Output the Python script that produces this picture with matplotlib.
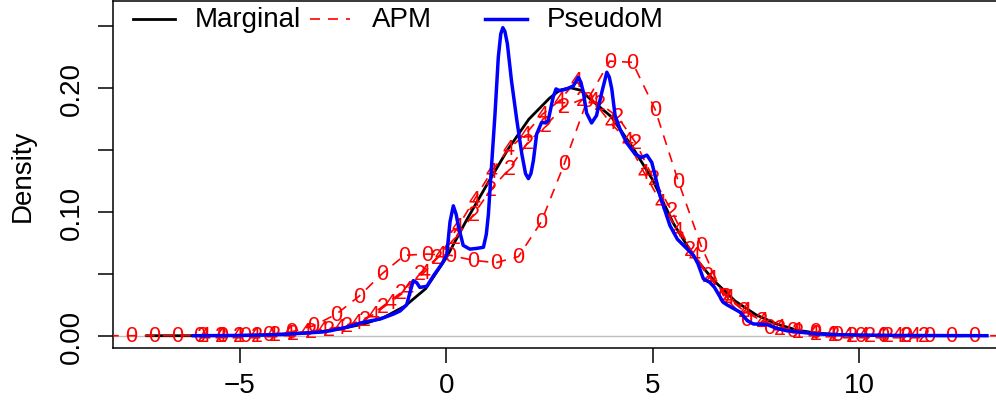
import matplotlib
matplotlib.use("Agg")
import matplotlib.pyplot as plt

plt.rcParams['font.family'] = ['Liberation Sans', 'DejaVu Sans']

# Marginal density (black)
marg_x = [-7.26, -6.5, -6.0, -5.5, -5.0, -4.5, -4.0, -3.5, -3.0, -2.5, -2.0, -1.5,
          -1.0, -0.5, 0.0, 0.5, 1.0, 1.5, 2.0, 2.5, 2.75, 3.0, 3.25, 3.5, 4.0, 4.5,
          5.0, 5.5, 6.0, 6.5, 7.0, 7.5, 8.0, 8.5, 9.0, 9.5, 10.0, 11.0, 12.0, 12.5]
marg_y = [0.0, 0.0, 0.0, 0.0001, 0.0003, 0.0006, 0.0012, 0.002, 0.0035, 0.006, 0.0095, 0.015,
          0.024, 0.038, 0.063, 0.094, 0.123, 0.151, 0.175, 0.192, 0.1985, 0.2005, 0.1985, 0.191, 0.177, 0.153,
          0.126, 0.091, 0.064, 0.044, 0.028, 0.017, 0.0095, 0.0045, 0.002, 0.001, 0.0004, 0.0001, 0.0, 0.0]

# PseudoM density (blue)
pseudo_x = [-6.13, -5.5, -5.0, -4.5, -4.0, -3.5, -3.0, -2.81, -2.4, -2.0, -1.6, -1.28,
            -1.12, -0.96, -0.88, -0.80, -0.72, -0.64, -0.47, -0.31, -0.11, 0.01, 0.09, 0.17,
            0.24, 0.29, 0.41, 0.57, 0.74, 0.90, 0.97, 1.02, 1.10, 1.18, 1.26, 1.32,
            1.37, 1.42, 1.48, 1.58, 1.71, 1.83, 1.92, 1.99, 2.05, 2.11, 2.19, 2.31,
            2.40, 2.47, 2.59, 2.66, 2.75, 2.92, 3.08, 3.20, 3.26, 3.32, 3.40, 3.52,
            3.64, 3.77, 3.89, 3.95, 4.01, 4.09, 4.21, 4.37, 4.57, 4.73, 4.86, 4.98,
            5.10, 5.18, 5.26, 5.42, 5.60, 5.75, 5.99, 6.10, 6.23, 6.39, 6.50, 6.71,
            6.80, 7.12, 7.30, 7.44, 7.77, 8.00, 8.25, 8.98, 9.5, 10.0, 11.0, 12.0, 13.1]
pseudo_y = [0.0, 0.0001, 0.0002, 0.0005, 0.001, 0.002, 0.003, 0.004, 0.007, 0.011, 0.0135, 0.0175,
            0.020, 0.025, 0.035, 0.0445, 0.043, 0.039, 0.040, 0.0485, 0.058, 0.065, 0.092, 0.105,
            0.098, 0.089, 0.073, 0.070, 0.0706, 0.0715, 0.082, 0.098, 0.139, 0.179, 0.225, 0.244,
            0.249, 0.246, 0.236, 0.206, 0.174, 0.147, 0.131, 0.127, 0.131, 0.1415, 0.163, 0.1725,
            0.172, 0.174, 0.193, 0.1995, 0.198, 0.1995, 0.202, 0.209, 0.205, 0.197, 0.180, 0.172,
            0.178, 0.197, 0.213, 0.209, 0.1995, 0.178, 0.167, 0.156, 0.147, 0.144, 0.146, 0.140,
            0.124, 0.113, 0.105, 0.089, 0.078, 0.073, 0.065, 0.058, 0.046, 0.043, 0.039, 0.027,
            0.025, 0.019, 0.012, 0.0095, 0.009, 0.006, 0.004, 0.0014, 0.0008, 0.0005, 0.0002, 0.0001, 0.0]

# APM densities (red dashed), one per label
apm0_x = [-8.18, -7.63, -7.08, -6.53, -5.98, -5.42, -4.87, -4.32, -3.77, -3.22, -2.66, -2.11,
          -1.56, -1.01, -0.46, 0.10, 0.65, 1.20, 1.75, 2.30, 2.86, 3.41, 3.96, 4.51,
          5.06, 5.62, 6.17, 6.72, 7.27, 7.82, 8.38, 8.93, 9.48, 10.03, 10.58, 11.14,
          11.69, 12.24, 12.79, 13.36]
apm0_y = [0.0, 0.0, 0.0, 0.0, 0.0, 0.0, 0.0005, 0.001, 0.003, 0.008, 0.0175, 0.032,
          0.050, 0.065, 0.066, 0.065, 0.061, 0.059, 0.064, 0.092, 0.139, 0.190, 0.222, 0.221,
          0.183, 0.125, 0.073, 0.032, 0.013, 0.007, 0.004, 0.003, 0.001, 0.0005, 0.0, 0.0,
          0.0, 0.0, 0.0, 0.0]

apm2_x = [-5.90, -5.46, -5.02, -4.59, -4.15, -3.71, -3.28, -2.84, -2.40, -1.97, -1.53, -1.09,
          -0.65, -0.22, 0.22, 0.66, 1.09, 1.53, 1.97, 2.41, 2.84, 3.28, 3.71, 4.15,
          4.59, 5.02, 5.46, 5.90, 6.34, 6.77, 7.21, 7.65, 8.08, 8.52, 8.96, 9.40,
          9.83, 10.27, 10.71, 11.14, 11.58]
apm2_y = [0.0, 0.0, 0.0003, 0.0005, 0.001, 0.002, 0.003, 0.005, 0.008, 0.013, 0.024, 0.035,
          0.050, 0.063, 0.0795, 0.098, 0.1186, 0.135, 0.156, 0.170, 0.185, 0.191, 0.188, 0.177,
          0.156, 0.127, 0.101, 0.070, 0.0485, 0.032, 0.020, 0.012, 0.006, 0.0035, 0.002, 0.001,
          0.0005, 0.0003, 0.0, 0.0, 0.0]

apm4_x = [-5.87, -5.46, -5.05, -4.64, -4.23, -3.82, -3.41, -3.00, -2.59, -2.18, -1.77, -1.36,
          -0.95, -0.54, -0.13, 0.28, 0.69, 1.10, 1.51, 1.92, 2.33, 2.74, 3.15, 3.56,
          3.97, 4.38, 4.79, 5.20, 5.61, 6.02, 6.43, 6.84, 7.25, 7.66, 8.07, 8.48,
          8.89, 9.30, 9.71, 10.12, 10.53, 10.94, 11.35]
apm4_y = [0.0, 0.0, 0.0003, 0.0005, 0.001, 0.002, 0.003, 0.005, 0.007, 0.011, 0.017, 0.027,
          0.037, 0.051, 0.066, 0.088, 0.1105, 0.133, 0.151, 0.163, 0.179, 0.190, 0.206, 0.190,
          0.1725, 0.158, 0.132, 0.108, 0.085, 0.065, 0.046, 0.031, 0.020, 0.012, 0.007, 0.004,
          0.002, 0.001, 0.0005, 0.0003, 0.0, 0.0, 0.0]

apm_curves = [("0", apm0_x, apm0_y), ("2", apm2_x, apm2_y), ("4", apm4_x, apm4_y)]

x_ticks = [-5, 0, 5, 10]
x_tick_labels = ["\u22125", "0", "5", "10"]
y_ticks = [0.0, 0.05, 0.10, 0.15, 0.20, 0.25]
y_tick_labels = ["0.00", "", "0.10", "", "0.20", ""]

XLIM = (-8.076, 13.417)
YLIM = (-0.00994, 0.2706)

fig = plt.figure(figsize=(9.96, 4.02), dpi=100)
ax = fig.add_axes([113 / 996, 53 / 402, 887 / 996, 347 / 402])

ax.axhline(0, color='#bebebe', lw=1.0, zorder=1)

ax.plot(marg_x, marg_y, color='black', lw=2.0, zorder=2)

for lab, xs, ys in apm_curves:
    ax.plot(xs, ys, color='red', lw=1.2, dashes=(6.0, 4.8), zorder=3)
    for x, y in zip(xs, ys):
        # points past the visible edge get no label (R clips them away)
        if x < XLIM[0] or x > 13.3:
            continue
        ax.text(x, y, lab, color='red', fontsize=15.5, ha='center', va='center',
                clip_on=True, zorder=3)

ax.plot(pseudo_x, pseudo_y, color='#0000ff', lw=2.5, zorder=4)

ax.set_xlim(*XLIM)
ax.set_ylim(*YLIM)
ax.set_xticks(x_ticks)
ax.set_xticklabels(x_tick_labels)
ax.set_yticks(y_ticks)
ax.set_yticklabels(y_tick_labels, rotation=90, va='center')
ax.tick_params(direction='out', length=11, width=1.1, labelsize=20, colors='black')
ax.tick_params(axis='x', pad=6)
ax.tick_params(axis='y', pad=9)
for side in ['left', 'bottom', 'top']:
    ax.spines[side].set_linewidth(1.1)
ax.spines['right'].set_visible(False)

fig.text(23 / 996, 0.5635, "Density", rotation=90, ha='center', va='center', fontsize=20)

# legend, laid out horizontally like R's legend(horiz=TRUE)
ly = 0.948
legend_items = [
    (0.0225, 0.0699, 0.0924, "Marginal", dict(color='black', lw=2.0)),
    (0.2221, 0.2672, 0.2920, "APM", dict(color='red', lw=1.2, dashes=(6.0, 4.8))),
    (0.4194, 0.4667, 0.4893, "PseudoM", dict(color='#0000ff', lw=2.5)),
]
for x0, x1, xt, txt, style in legend_items:
    ax.plot([x0, x1], [ly, ly], transform=ax.transAxes, clip_on=False, **style)
    ax.text(xt, ly, txt, transform=ax.transAxes, fontsize=20, ha='left', va='center')

fig.savefig("out.png", dpi=100)
